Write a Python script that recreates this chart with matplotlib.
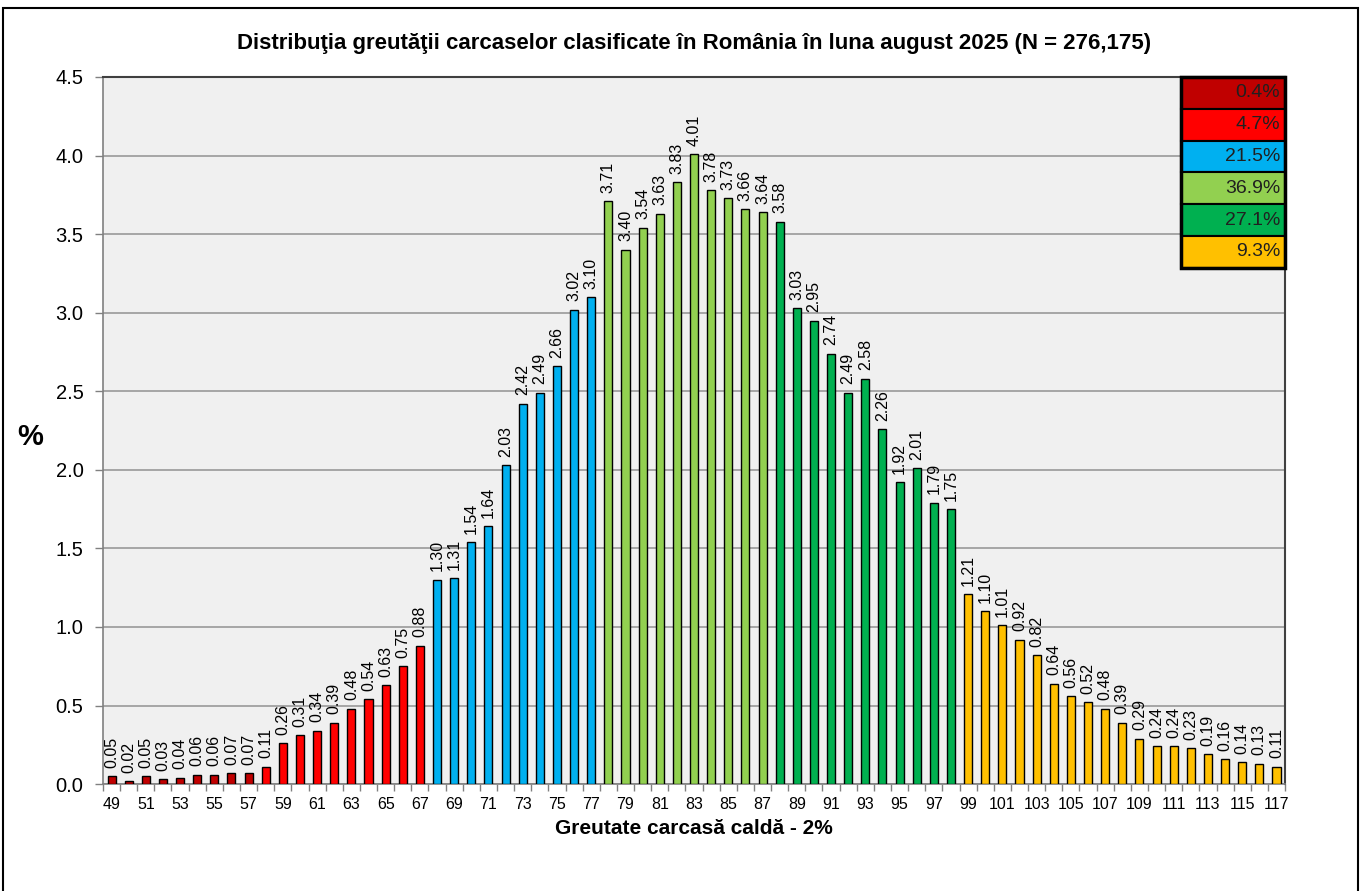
import numpy as np
import matplotlib.pyplot as plt
from matplotlib.patches import Rectangle

plt.rcParams["font.family"] = ["Liberation Sans", "DejaVu Sans"]

weights = list(range(49, 118))
percent = [
    0.05, 0.02, 0.05, 0.03, 0.04, 0.06, 0.06, 0.07, 0.07, 0.11,
    0.26, 0.31, 0.34, 0.39, 0.48, 0.54, 0.63, 0.75, 0.88, 1.30,
    1.31, 1.54, 1.64, 2.03, 2.42, 2.49, 2.66, 3.02, 3.10, 3.71,
    3.40, 3.54, 3.63, 3.83, 4.01, 3.78, 3.73, 3.66, 3.64, 3.58,
    3.03, 2.95, 2.74, 2.49, 2.58, 2.26, 1.92, 2.01, 1.79, 1.75,
    1.21, 1.10, 1.01, 0.92, 0.82, 0.64, 0.56, 0.52, 0.48, 0.39,
    0.29, 0.24, 0.24, 0.23, 0.19, 0.16, 0.14, 0.13, 0.11,
]

# classes: first weight of each group, colour, share shown in the box
group_start = [49, 58, 68, 78, 88, 99]
group_colors = ["#C00000", "#FF0000", "#00B0F0", "#92D050", "#00B050", "#FFC000"]
group_labels = ["0.4%", "4.7%", "21.5%", "36.9%", "27.1%", "9.3%"]

title = "Distribuţia greutăţii carcaselor clasificate în România în luna august 2025 (N = 276,175)"
xlabel = "Greutate carcasă caldă - 2%"

bar_colors = []
for w in weights:
    g = max(i for i, s in enumerate(group_start) if w >= s)
    bar_colors.append(group_colors[g])

fig = plt.figure(figsize=(13.62, 8.91), dpi=100)
ax = fig.add_axes([0.0756, 0.120, 0.8679, 0.7936])
ax.set_facecolor("#F0F0F0")

x = np.arange(len(weights))
ax.bar(x, percent, width=0.47, color=bar_colors, edgecolor="black", linewidth=1.0, zorder=3)

for xi, v in zip(x, percent):
    ax.annotate(f"{v:.2f}", (xi, v), xytext=(0, 6), textcoords="offset points",
                rotation=90, ha="center", va="bottom", fontsize=11.5, zorder=4)

ax.set_xlim(-0.5, len(weights) - 0.5)
ax.set_ylim(0, 4.5)
ax.set_yticks(np.arange(0, 4.51, 0.5))
ax.set_yticklabels([f"{t:.1f}" for t in np.arange(0, 4.51, 0.5)], fontsize=14.5)
ax.yaxis.grid(True, color="#A0A0A0", linewidth=1.3, zorder=0)
ax.set_axisbelow(True)

odd_idx = [i for i, w in enumerate(weights) if w % 2 == 1]
ax.set_xticks(odd_idx)
ax.set_xticklabels([str(weights[i]) for i in odd_idx], fontsize=11.5)
ax.set_xticks(np.arange(-0.5, len(weights), 1.0), minor=True)
ax.tick_params(axis="x", which="major", length=0, pad=9)
ax.tick_params(axis="x", which="minor", length=5, color="#808080", width=1)
ax.tick_params(axis="y", length=6, color="#808080", width=1, pad=8)

for side in ["left", "bottom"]:
    ax.spines[side].set_color("#808080")
    ax.spines[side].set_linewidth(1.2)
for side in ["top", "right"]:
    ax.spines[side].set_color("#404040")
    ax.spines[side].set_linewidth(1.5)

ax.set_title(title, fontsize=16, fontweight="bold", pad=20)
ax.set_xlabel(xlabel, fontsize=15, fontweight="bold", labelpad=5)
fig.text(30 / 1362, 1 - 437 / 891, "%", fontsize=21, fontweight="bold", ha="center", va="center")

# class share box in the upper right corner
box_x0, box_x1 = 0.912, 1.0
box_top, box_bottom = 1.0, 0.730
row_h = (box_top - box_bottom) / len(group_labels)
for i, (c, lab) in enumerate(zip(group_colors, group_labels)):
    y0 = box_top - (i + 1) * row_h
    ax.add_patch(Rectangle((box_x0, y0), box_x1 - box_x0, row_h, transform=ax.transAxes,
                           facecolor=c, edgecolor="black", linewidth=1.5, zorder=5, clip_on=False))
    ax.text(box_x1 - 0.004, y0 + row_h / 2, lab, transform=ax.transAxes, ha="right",
            va="center", fontsize=14, color="#202020", zorder=6)
ax.add_patch(Rectangle((box_x0, box_bottom), box_x1 - box_x0, box_top - box_bottom,
                       transform=ax.transAxes, facecolor="none", edgecolor="black",
                       linewidth=2.5, zorder=7, clip_on=False))

# outer frame of the chart
fig.patches.append(Rectangle((0.0022, -0.02), 0.995, 1.011, transform=fig.transFigure,
                             facecolor="none", edgecolor="black", linewidth=1.5))

fig.savefig("out.png", dpi=100)
